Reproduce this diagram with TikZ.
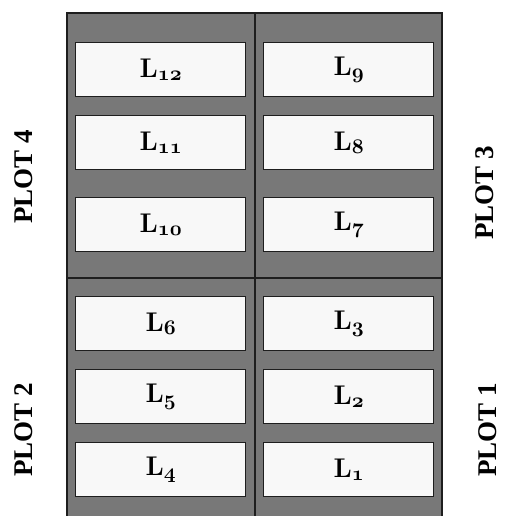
\documentclass[tikz,border=0pt]{standalone}
\usepackage{fontspec}
\newfontfamily\plotfont{Liberation Serif}
\definecolor{plotgray}{RGB}{120,120,120}
\definecolor{boxfill}{RGB}{248,248,248}
\definecolor{edge}{RGB}{30,30,30}
\newcommand{\osfdig}[1]{{\fontsize{20.74}{21}\usefont{OML}{cmm}{b}{it}#1}}
\newcommand{\lab}[1]{\fontsize{27}{27}\selectfont\bfseries L\raisebox{-0.12em}{\osfdig{#1}}}
\tikzset{
  lot/.style={draw=edge, line width=1.3pt, fill=boxfill, minimum width=170pt, minimum height=54pt, inner sep=0pt, anchor=north west},
  plotlabel/.style={rotate=90, font=\plotfont\bfseries\fontsize{27}{27}\selectfont, inner sep=0pt}
}
\begin{document}
\begin{tikzpicture}[x=1pt,y=-1pt]
\useasboundingbox (0,0) rectangle (505,516);
\fill[plotgray] (67,13) rectangle (442,530);
\draw[edge, line width=1.3pt] (67,530) -- (67,13) -- (442,13) -- (442,530);
\coordinate (vt) at (255,13);
\coordinate (vb) at (255,520);
\coordinate (hl) at (67,278);
\coordinate (hr) at (442,278);
\draw[edge, line width=1.3pt] (vt) -- (vb);
\draw[edge, line width=1.3pt] (hl) -- (hr);
% left column
\node[lot] (l12) at (75,42) {\lab{12}};
\node[lot] (l11) at (75,115) {\lab{11}};
\node[lot] (l10) at (75,197) {\lab{10}};
\node[lot] (l6) at (75,296) {\lab{6}};
\node[lot] (l5) at (75,369) {\lab{5}};
\node[lot] (l4) at (75,442) {\lab{4}};
% right column
\node[lot] (l9) at (263,42) {\lab{9}};
\node[lot] (l8) at (263,115) {\lab{8}};
\node[lot] (l7) at (263,197) {\lab{7}};
\node[lot] (l3) at (263,296) {\lab{3}};
\node[lot] (l2) at (263,369) {\lab{2}};
\node[lot] (l1) at (263,442) {\lab{1}};
% plot labels
\node[plotlabel] (p4) at (24,177) {PLOT 4};
\node[plotlabel] (p2) at (24,430) {PLOT 2};
\node[plotlabel] (p3) at (485,193) {PLOT 3};
\node[plotlabel] (p1) at (488,430) {PLOT 1};
\end{tikzpicture}
\end{document}
